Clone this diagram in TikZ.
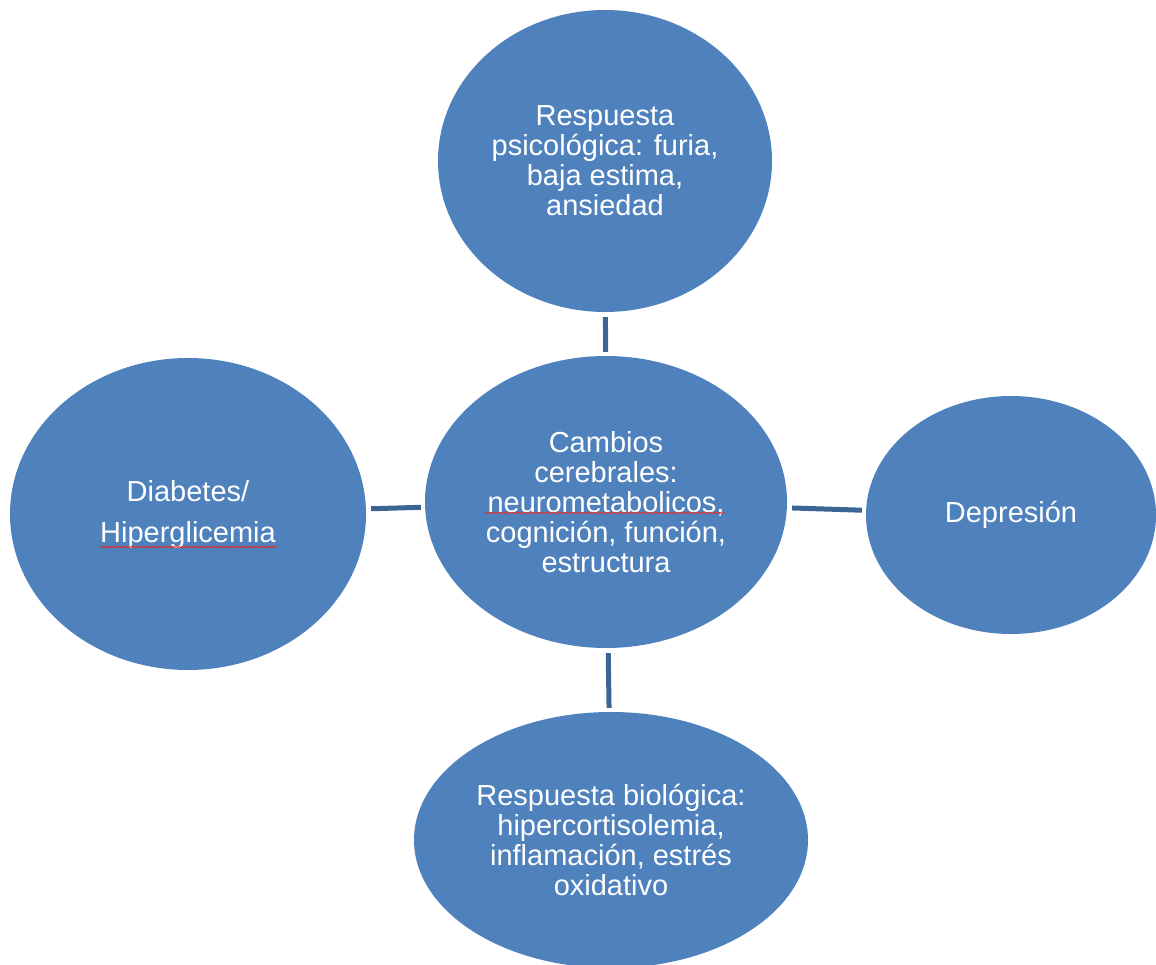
\documentclass[tikz,border=0pt]{standalone}
\usepackage{fontspec}
\setmainfont{Liberation Sans}
\usetikzlibrary{shapes.geometric,decorations.pathmorphing}
\definecolor{bubble}{HTML}{4F81BD}
\definecolor{link}{HTML}{3C6494}
\definecolor{spell}{HTML}{E03030}
\tikzset{
  bubble/.style={ellipse, fill=bubble, draw=none, inner sep=0pt, text=white,
    align=center, font=\fontsize{29}{30}\selectfont},
  linkline/.style={draw=link, line width=5pt, shorten <=5pt, shorten >=4pt},
  squiggle/.style={draw=spell, line width=0.8pt,
    decorate, decoration={snake, amplitude=0.8pt, segment length=3pt}}
}
\begin{document}
\begin{tikzpicture}[x=1pt,y=-1pt]
\useasboundingbox (0,0) rectangle (1156,965);
\node[bubble, minimum width=334pt, minimum height=302pt] (top) at (605,161)
  {Respuesta\\psicológica: furia,\\baja estima,\\ansiedad};
\node[bubble, minimum width=362pt, minimum height=292pt] (center) at (606,502)
  {Cambios\\cerebrales:\\neurometabolicos,\\cognición, función,\\estructura};
\node[bubble, minimum width=356pt, minimum height=312pt,
  font=\fontsize{29}{41}\selectfont] (left) at (188,514)
  {Diabetes/\\Hiperglicemia};
\node[bubble, minimum width=290pt, minimum height=238pt] (right) at (1011,515)
  {Depresión};
\node[bubble, minimum width=394pt, minimum height=256pt] (bottom) at (611,840)
  {Respuesta biológica:\\hipercortisolemia,\\inflamación, estrés\\oxidativo};
\draw[linkline] (top) -- (center);
\draw[linkline] (left) -- (center);
\draw[linkline] (center) -- (right);
\draw[linkline] (center) -- (bottom);
\draw[squiggle] (485,513) -- (725,513);
\draw[squiggle] (100,547) -- (277,547);
\end{tikzpicture}
\end{document}
